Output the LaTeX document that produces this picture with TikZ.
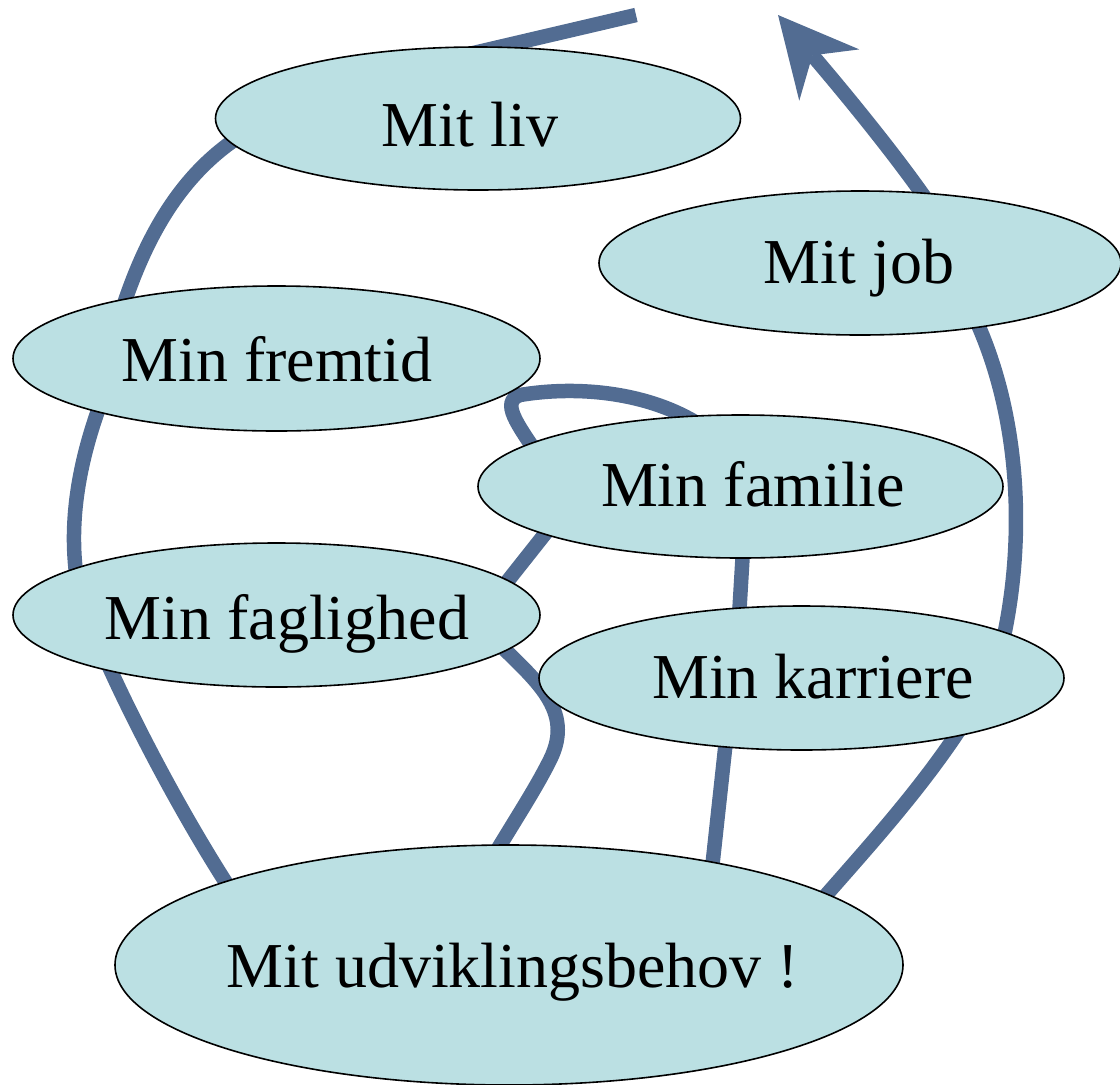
\documentclass[tikz,border=0pt]{standalone}
\usepackage{fontspec}
\setmainfont{Liberation Serif}
\usetikzlibrary{arrows.meta,shapes.geometric,calc}
\definecolor{bubfill}{HTML}{BBE0E3}
\definecolor{wire}{HTML}{526C92}
\pgfdeclarelayer{bg}
\pgfsetlayers{bg,main}
\begin{document}
\begin{tikzpicture}[x=1pt,y=-1pt,
  bub/.style={ellipse, draw=black, line width=1.6pt, fill=bubfill, inner sep=0pt, outer sep=0pt, text depth=0pt, font=\fontsize{64}{70}\selectfont},
  wireline/.style={draw=wire, line width=14.5pt, line cap=butt}]
\useasboundingbox (0,0) rectangle (1120,1085);

\node[bub, minimum width=525pt, minimum height=143pt, text height=56pt] (liv) at (478,118.5) {\makebox[0pt]{\hspace*{-16pt}Mit liv}};
\node[bub, minimum width=522pt, minimum height=144pt, text height=40pt] (job) at (860,263) {\makebox[0pt]{\hspace*{-2pt}Mit job}};
\node[bub, minimum width=527pt, minimum height=145pt, text height=46pt] (fremtid) at (276.5,358.5) {\makebox[0pt]{\hspace*{1pt}Min fremtid}};
\node[bub, minimum width=525pt, minimum height=143pt, text height=40pt] (familie) at (740.5,486.5) {\makebox[0pt]{\hspace*{25pt}Min familie}};
\node[bub, minimum width=527pt, minimum height=144pt, text height=48pt] (faglighed) at (276.5,615) {\makebox[0pt]{\hspace*{21pt}Min faglighed}};
\node[bub, minimum width=525pt, minimum height=144pt, text height=40pt] (karriere) at (801.5,678) {\makebox[0pt]{\hspace*{23pt}Min karriere}};
\node[bub, minimum width=788pt, minimum height=240pt, text height=44pt] (udv) at (509,965) {\makebox[0pt]{\hspace*{8pt}Mit udviklingsbehov !}};

\coordinate (topend) at (636,15);
\coordinate (tip) at (778,15);

\begin{pgfonlayer}{bg}
% left chain
\draw[wireline] ($(liv)+(-28,-60)$) -- (topend);
\draw[wireline] ($(liv)+(-233,14.5)$) .. controls (185,170) and (148,230) .. ($(fremtid)+(-154.5,-48.5)$);
\draw[wireline] ($(fremtid)+(-176.5,46.5)$) .. controls (80,460) and (68,520) .. ($(faglighed)+(-199.5,-35)$);
\draw[wireline] ($(faglighed)+(-170.5,45)$) .. controls (135,725) and (185,820) .. ($(udv)+(-277,-73)$);
% right chain
\draw[wireline] ($(udv)+(311,-63)$) .. controls (870,845) and (920,790) .. ($(karriere)+(160.5,48)$);
\draw[wireline] ($(karriere)+(200.5,-33)$) .. controls (1025,545) and (1022,420) .. ($(job)+(115,55)$);
\draw[wireline, -{Stealth[length=79pt,width=79pt,inset=26pt,line width=0pt]}] ($(job)+(68,-61)$) .. controls (885,140) and (819,63) .. (tip);
% middle chain
\draw[wireline] ($(faglighed)+(218.5,25)$) .. controls (535,680) and (575,710) .. (550,760) .. controls (535,790) and (515,820) .. ($(udv)+(-19,-103)$);
\draw[wireline] ($(faglighed)+(218.5,-18)$) -- ($(familie)+(-188.5,38.5)$);
\draw[wireline] ($(familie)+(-202.5,-31.5)$) .. controls (518,425) and (500,402) .. (520,395) .. controls (580,385) and (650,393) .. ($(familie)+(-40.5,-61.5)$);
\draw[wireline] ($(familie)+(2.5,63.5)$) -- ($(karriere)+(-62.5,-61)$);
\draw[wireline] ($(karriere)+(-75.5,62)$) -- ($(udv)+(202,-87)$);
\end{pgfonlayer}
\end{tikzpicture}
\end{document}
